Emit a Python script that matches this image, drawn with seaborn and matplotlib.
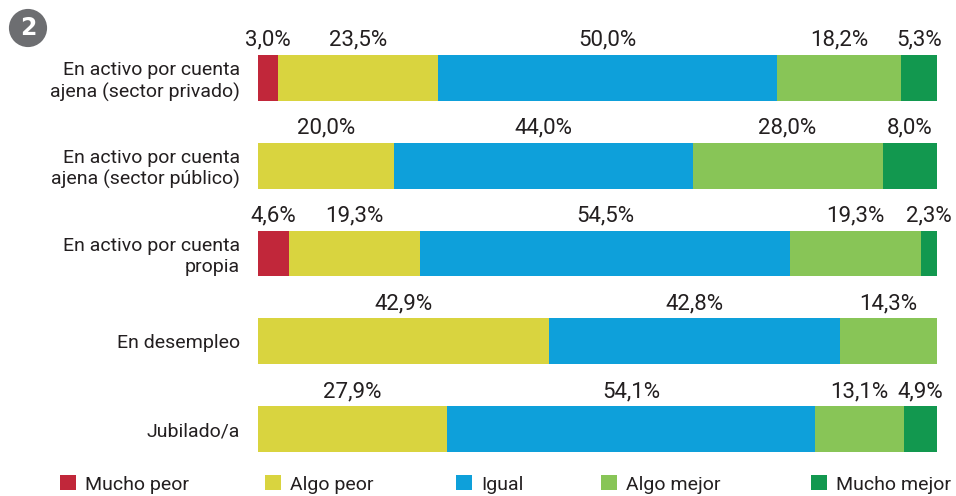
import numpy as np
import pandas as pd
import seaborn as sns
import matplotlib.pyplot as plt
from matplotlib.patches import Patch

# datos
filas = ["En activo por cuenta\najena (sector privado)",
         "En activo por cuenta\najena (sector público)",
         "En activo por cuenta\npropia",
         "En desempleo",
         "Jubilado/a"]
categorias = ["Mucho peor", "Algo peor", "Igual", "Algo mejor", "Mucho mejor"]
mucho_peor = [3.0, 0.0, 4.6, 0.0, 0.0]
algo_peor = [23.5, 20.0, 19.3, 42.9, 27.9]
igual = [50.0, 44.0, 54.5, 42.8, 54.1]
algo_mejor = [18.2, 28.0, 19.3, 14.3, 13.1]
mucho_mejor = [5.3, 8.0, 2.3, 0.0, 4.9]
colores = ["#c1273a", "#d9d43f", "#0ea0da", "#88c557", "#12984f"]

sns.set_theme(style="white")
plt.rcParams['font.family'] = ['Liberation Sans Narrow', 'Roboto', 'DejaVu Sans']
texto = "#231f20"

df = pd.DataFrame({"fila": filas, "Mucho peor": mucho_peor, "Algo peor": algo_peor,
                   "Igual": igual, "Algo mejor": algo_mejor, "Mucho mejor": mucho_mejor})
acum = df[categorias].cumsum(axis=1)

fig = plt.figure(figsize=(9.56, 4.96), dpi=100)
ax = fig.add_axes([258/956, 1-473/496, (937-258)/956, (473-34)/496])

# barras apiladas: se dibuja primero el acumulado mayor
for cat, col in zip(categorias[::-1], colores[::-1]):
    sns.barplot(x=acum[cat], y=df["fila"], color=col, orient="h", width=0.52,
                saturation=1, linewidth=0, ax=ax)

# etiquetas sobre cada segmento
for i in range(len(filas)):
    izq = 0
    for cat in categorias:
        v = df.loc[i, cat]
        if v > 0:
            ax.annotate(f"{v:.1f}%".replace(".", ","), (izq + v/2, i - 0.26),
                        xytext=(0, 3), textcoords="offset points",
                        ha="center", va="bottom", fontsize=16, color=texto)
        izq += v

ax.set_xlim(0, 100)
ax.set_ylim(4.5, -0.5)
ax.set_xlabel("")
ax.set_ylabel("")
ax.set_xticks([])
ax.tick_params(axis="y", length=0, pad=13, labelsize=14, labelcolor=texto)
for s in ax.spines.values():
    s.set_visible(False)

# leyenda: una entrada por posición
pos_ley = [60, 265, 456, 601, 811]
for cat, col, px in zip(categorias, colores, pos_ley):
    ley = fig.legend([Patch(facecolor=col, edgecolor="none")], [cat], loc="lower left",
                     bbox_to_anchor=(px/956, 0.005), frameon=False, fontsize=14,
                     handlelength=0.8, handleheight=0.8, handletextpad=0.5,
                     borderpad=0, borderaxespad=0, labelcolor=texto)

# circulo con el numero
fig.text(28/956, 1-28/496, "2", ha="center", va="center", fontsize=17,
         fontweight="bold", color="white", family=["DejaVu Sans"],
         bbox=dict(boxstyle="circle,pad=0.3", fc="#6d6e71", ec="none"))

fig.savefig("out.png", dpi=100)
